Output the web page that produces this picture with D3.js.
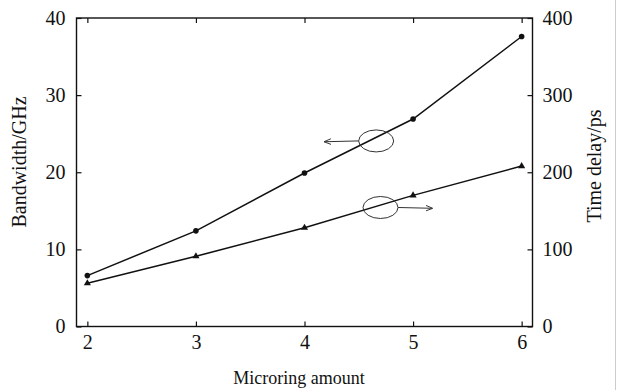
<!DOCTYPE html>
<html><head><meta charset="utf-8">
<script src="https://cdn.jsdelivr.net/npm/d3@7"></script>
<style>
html,body{margin:0;padding:0;background:#fff;}
svg{display:block;font-family:"Liberation Serif","Times New Roman",serif;}
</style></head>
<body><svg id="c" width="619" height="390"></svg>
<script>
const microrings = [2, 3, 4, 5, 6];
const bandwidth = [6.6, 12.4, 19.9, 26.9, 37.6];
const timeDelay = [56, 91, 128, 170, 208];
const xTicks = [2, 3, 4, 5, 6];
const leftTicks = [0, 10, 20, 30, 40];
const rightTicks = [0, 100, 200, 300, 400];
const xLabel = "Microring amount";
const leftLabel = "Bandwidth/GHz";
const rightLabel = "Time delay/ps";

const svg = d3.select("#c");
const L = 76.5, R = 532.5, T = 18, B = 326.5;
const x = d3.scaleLinear().domain([1.9, 6.1]).range([L, R]);
const yL = d3.scaleLinear().domain([0, 40]).range([B, T]);
const yR = d3.scaleLinear().domain([0, 400]).range([B, T]);
const ink = "#111";
const serif = '"Liberation Serif","Times New Roman",serif';
const fmt = d3.format("d");

// frame
svg.append("rect").attr("x", L).attr("y", T).attr("width", R - L).attr("height", B - T)
  .attr("fill", "none").attr("stroke", ink).attr("stroke-width", 1.4);

// axes with inward ticks
const fs = "20px";
const gB = svg.append("g").attr("transform", `translate(0,${B})`)
  .call(d3.axisBottom(x).tickValues(xTicks).tickFormat(fmt).tickSizeInner(-5).tickSizeOuter(0).tickPadding(8));
const gT = svg.append("g").attr("transform", `translate(0,${T})`)
  .call(d3.axisTop(x).tickValues(xTicks).tickSizeInner(-5).tickSizeOuter(0).tickFormat(""));
const gL = svg.append("g").attr("transform", `translate(${L},0)`)
  .call(d3.axisLeft(yL).tickValues(leftTicks).tickFormat(fmt).tickSizeInner(-5).tickSizeOuter(0).tickPadding(11));
const gR = svg.append("g").attr("transform", `translate(${R},0)`)
  .call(d3.axisRight(yR).tickValues(rightTicks).tickFormat(fmt).tickSizeInner(-5).tickSizeOuter(0).tickPadding(10));
[gB, gT, gL, gR].forEach(g => {
  g.attr("font-size", null).attr("font-family", null);
  g.select(".domain").remove();
  g.selectAll(".tick line").attr("stroke", ink).attr("stroke-width", 1.2);
  g.selectAll(".tick text").attr("fill", ink).style("font-size", fs).style("font-family", serif);
});

// axis titles
svg.append("text").attr("x", 299).attr("y", 384).attr("text-anchor", "middle")
  .style("font-size", "18px").style("font-family", serif).attr("fill", ink).text(xLabel);
svg.append("text").attr("transform", "translate(26,162) rotate(-90)").attr("text-anchor", "middle")
  .style("font-size", "20px").style("font-family", serif).attr("fill", ink).text(leftLabel);
svg.append("text").attr("transform", "translate(601,166) rotate(-90)").attr("text-anchor", "middle")
  .style("font-size", "20px").style("font-family", serif).attr("fill", ink).text(rightLabel);

// lines
const bwData = microrings.map((m, i) => ({m, v: bandwidth[i]}));
const tdData = microrings.map((m, i) => ({m, v: timeDelay[i]}));
svg.append("path").datum(bwData).attr("fill", "none").attr("stroke", ink).attr("stroke-width", 1.5)
  .attr("d", d3.line().x(d => x(d.m)).y(d => yL(d.v)));
svg.append("path").datum(tdData).attr("fill", "none").attr("stroke", ink).attr("stroke-width", 1.5)
  .attr("d", d3.line().x(d => x(d.m)).y(d => yR(d.v)));
svg.selectAll("circle.bw").data(bwData).join("circle").attr("class", "bw")
  .attr("cx", d => x(d.m)).attr("cy", d => yL(d.v)).attr("r", 2.8).attr("fill", ink);
svg.selectAll("path.td").data(tdData).join("path").attr("class", "td")
  .attr("transform", d => `translate(${x(d.m)},${yR(d.v)})`)
  .attr("d", d3.symbol(d3.symbolTriangle, 22)()).attr("fill", ink);

// annotation ellipses + arrows
const defs = svg.append("defs");
defs.append("marker").attr("id", "ah").attr("viewBox", "0 0 10 10").attr("refX", 9).attr("refY", 5)
  .attr("markerWidth", 7).attr("markerHeight", 7).attr("orient", "auto-start-reverse")
  .append("path").attr("d", "M0,1 L10,5 L0,9").attr("fill", "none").attr("stroke", "#333").attr("stroke-width", 1.4);
const annBw = {m: 4.66, v: 24.06, dir: -1};
const annTd = {m: 4.70, v: 154.3, dir: 1};
const rx = 17.5, ry = 11;
function ann(cx, cy, dir) {
  svg.append("ellipse").attr("cx", cx).attr("cy", cy).attr("rx", rx).attr("ry", ry)
    .attr("fill", "none").attr("stroke", "#333").attr("stroke-width", 1);
  const x0 = cx + dir * rx, x1 = x0 + dir * 34;
  svg.append("line").attr("x1", x0).attr("y1", cy).attr("x2", x1).attr("y2", cy + 0.8)
    .attr("stroke", "#333").attr("stroke-width", 1).attr("marker-end", "url(#ah)");
}
ann(x(annBw.m), yL(annBw.v), annBw.dir);
ann(x(annTd.m), yR(annTd.v), annTd.dir);

// faint right border of the figure
svg.append("line").attr("x1", 615.5).attr("x2", 615.5).attr("y1", 0).attr("y2", 390)
  .attr("stroke", "#ccc").attr("stroke-width", 1);
</script></body></html>
